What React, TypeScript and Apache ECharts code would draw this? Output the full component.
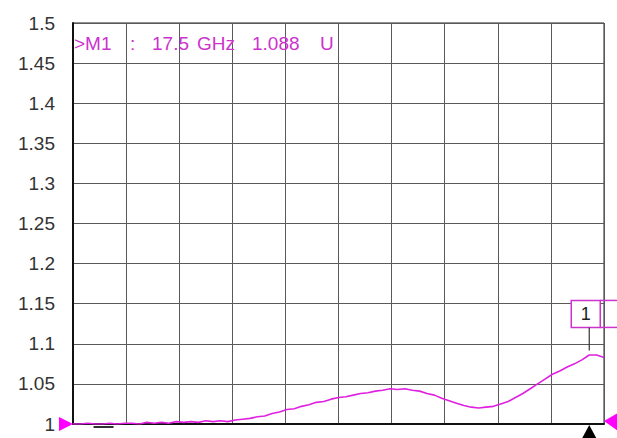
import React, { useEffect, useRef } from "react";
import * as echarts from "echarts";

// Frequency axis (GHz) and trace values (SWR, unitless "U")
const freqGHz: number[] = [
  0, 0.25, 0.5, 0.75, 1, 1.25, 1.5, 1.75, 2, 2.25, 2.5, 2.75, 3, 3.25, 3.5, 3.75,
  4, 4.25, 4.5, 4.75, 5, 5.25, 5.5, 5.75, 6, 6.25, 6.5, 6.75, 7, 7.25, 7.5, 7.75,
  8, 8.25, 8.5, 8.75, 9, 9.25, 9.5, 9.75, 10, 10.25, 10.5, 10.75, 11, 11.25, 11.5,
  11.75, 12, 12.25, 12.5, 12.75, 13, 13.25, 13.5, 13.75, 14, 14.25, 14.5, 14.75,
  15, 15.25, 15.5, 15.75, 16, 16.25, 16.5, 16.75, 17, 17.25, 17.5, 17.75, 18,
];
const swr: number[] = [
  1.0, 1.0, 1.001, 1.0, 1.0, 1.001, 1.0, 1.001, 1.001, 1.0, 1.002, 1.001, 1.002,
  1.001, 1.003, 1.002, 1.003, 1.002, 1.004, 1.003, 1.004, 1.003, 1.005, 1.006,
  1.007, 1.009, 1.01, 1.013, 1.015, 1.018, 1.019, 1.022, 1.024, 1.027, 1.028,
  1.031, 1.033, 1.034, 1.036, 1.038, 1.039, 1.041, 1.042, 1.044, 1.043, 1.044,
  1.042, 1.041, 1.038, 1.036, 1.032, 1.029, 1.026, 1.023, 1.021, 1.02, 1.021,
  1.022, 1.025, 1.028, 1.033, 1.038, 1.044, 1.05, 1.056, 1.062, 1.066, 1.071,
  1.075, 1.08, 1.086, 1.086, 1.083,
];
const yTicks: number[] = [1, 1.05, 1.1, 1.15, 1.2, 1.25, 1.3, 1.35, 1.4, 1.45, 1.5];
const markerName = "M1";
const markerFreq = 17.5;
const markerValue = 1.088;
const markerLabel = "1";

const MAGENTA = "#e020e0";
const TEXT_MAG = "#cc33cc";

export default function App() {
  const ref = useRef<HTMLDivElement>(null);
  useEffect(() => {
    if (!ref.current) return;
    const chart = echarts.init(ref.current, undefined, { renderer: "svg" });
    chart.setOption({
      animation: false,
      backgroundColor: "#ffffff",
      grid: {
        left: 73,
        top: 23,
        right: 13,
        bottom: 14,
        show: true,
        borderColor: "#222",
        borderWidth: 1,
      },
      xAxis: {
        type: "value",
        min: 0,
        max: 18,
        interval: 1.8,
        axisLabel: { show: false },
        axisTick: { show: false },
        axisLine: { show: true, lineStyle: { color: "#111", width: 2 } },
        splitLine: { show: true, lineStyle: { color: "#5a5a5a", width: 1 } },
      },
      yAxis: {
        type: "value",
        min: yTicks[0],
        max: yTicks[yTicks.length - 1],
        interval: 0.05,
        axisLabel: {
          margin: 18,
          fontFamily: "Liberation Sans, Arial, sans-serif",
          fontSize: 19,
          color: "#333",
          formatter: (v: number) => String(+v.toFixed(2)),
        },
        axisTick: { show: false },
        axisLine: { show: true, lineStyle: { color: "#111", width: 2 } },
        splitLine: { show: true, lineStyle: { color: "#5a5a5a", width: 1 } },
      },
      series: [
        {
          type: "line",
          data: freqGHz.map((f, i) => [f, swr[i]]),
          symbol: "none",
          lineStyle: { color: MAGENTA, width: 1.6 },
          z: 5,
        },
      ],
    });

    const [mx, my] = chart.convertToPixel({ gridIndex: 0 }, [markerFreq, markerValue]) as number[];
    const [x0, yBase] = chart.convertToPixel({ gridIndex: 0 }, [0, yTicks[0]]) as number[];
    const [x1, yTop] = chart.convertToPixel({ gridIndex: 0 }, [18, yTicks[yTicks.length - 1]]) as number[];
    const [dashX] = chart.convertToPixel({ gridIndex: 0 }, [0.9, 1]) as number[];

    const textY = yTop + 20;
    const tStyle = (text: string, x: number) => ({
      type: "text",
      x,
      y: textY,
      style: {
        text,
        fill: TEXT_MAG,
        font: '19px "Liberation Sans", Arial, sans-serif',
        textVerticalAlign: "middle",
      },
      z: 10,
    });

    chart.setOption({
      graphic: [
        tStyle(">" + markerName, x0 + 1),
        tStyle(":", x0 + 57),
        tStyle(String(markerFreq), x0 + 79),
        tStyle("GHz", x0 + 124),
        tStyle(markerValue.toFixed(3), x0 + 179),
        tStyle("U", x0 + 247),
        // marker flag box
        {
          type: "rect",
          shape: { x: mx - 18, y: my - 53, width: 29, height: 27 },
          style: { fill: "#fff", stroke: TEXT_MAG, lineWidth: 1.5 },
          z: 10,
        },
        {
          type: "line",
          shape: { x1: mx + 11, y1: my - 53, x2: x1 + 13, y2: my - 53 },
          style: { stroke: TEXT_MAG, lineWidth: 1.5 },
          z: 10,
        },
        {
          type: "line",
          shape: { x1: mx + 11, y1: my - 26, x2: x1 + 13, y2: my - 26 },
          style: { stroke: TEXT_MAG, lineWidth: 1.5 },
          z: 10,
        },
        {
          type: "text",
          x: mx - 3.5,
          y: my - 39.5,
          style: {
            text: markerLabel,
            fill: "#222",
            font: '18px "Liberation Sans", Arial, sans-serif',
            textAlign: "center",
            textVerticalAlign: "middle",
          },
          z: 11,
        },
        {
          type: "line",
          shape: { x1: mx, y1: my - 26, x2: mx, y2: my - 3 },
          style: { stroke: "#333", lineWidth: 1.2 },
          z: 10,
        },
        // reference level triangles
        {
          type: "polygon",
          shape: { points: [[x0 - 14, yBase - 7], [x0, yBase], [x0 - 14, yBase + 7]] },
          style: { fill: "#ff00ff" },
          z: 10,
        },
        {
          type: "polygon",
          shape: { points: [[x1 + 14, yBase - 11], [x1, yBase - 3], [x1 + 14, yBase + 7]] },
          style: { fill: "#ff00ff" },
          z: 10,
        },
        // marker position triangle
        {
          type: "polygon",
          shape: { points: [[mx, yBase + 1], [mx - 7, yBase + 14], [mx + 7, yBase + 14]] },
          style: { fill: "#000" },
          z: 10,
        },
        {
          type: "line",
          shape: { x1: dashX - 6, y1: yBase + 3, x2: dashX + 14, y2: yBase + 3 },
          style: { stroke: "#333", lineWidth: 2 },
          z: 10,
        },
      ],
    });

    return () => chart.dispose();
  }, []);
  return (
    <div
      ref={ref}
      style={{ position: "fixed", left: 0, top: 0, width: 617, height: 438 }}
    />
  );
}
